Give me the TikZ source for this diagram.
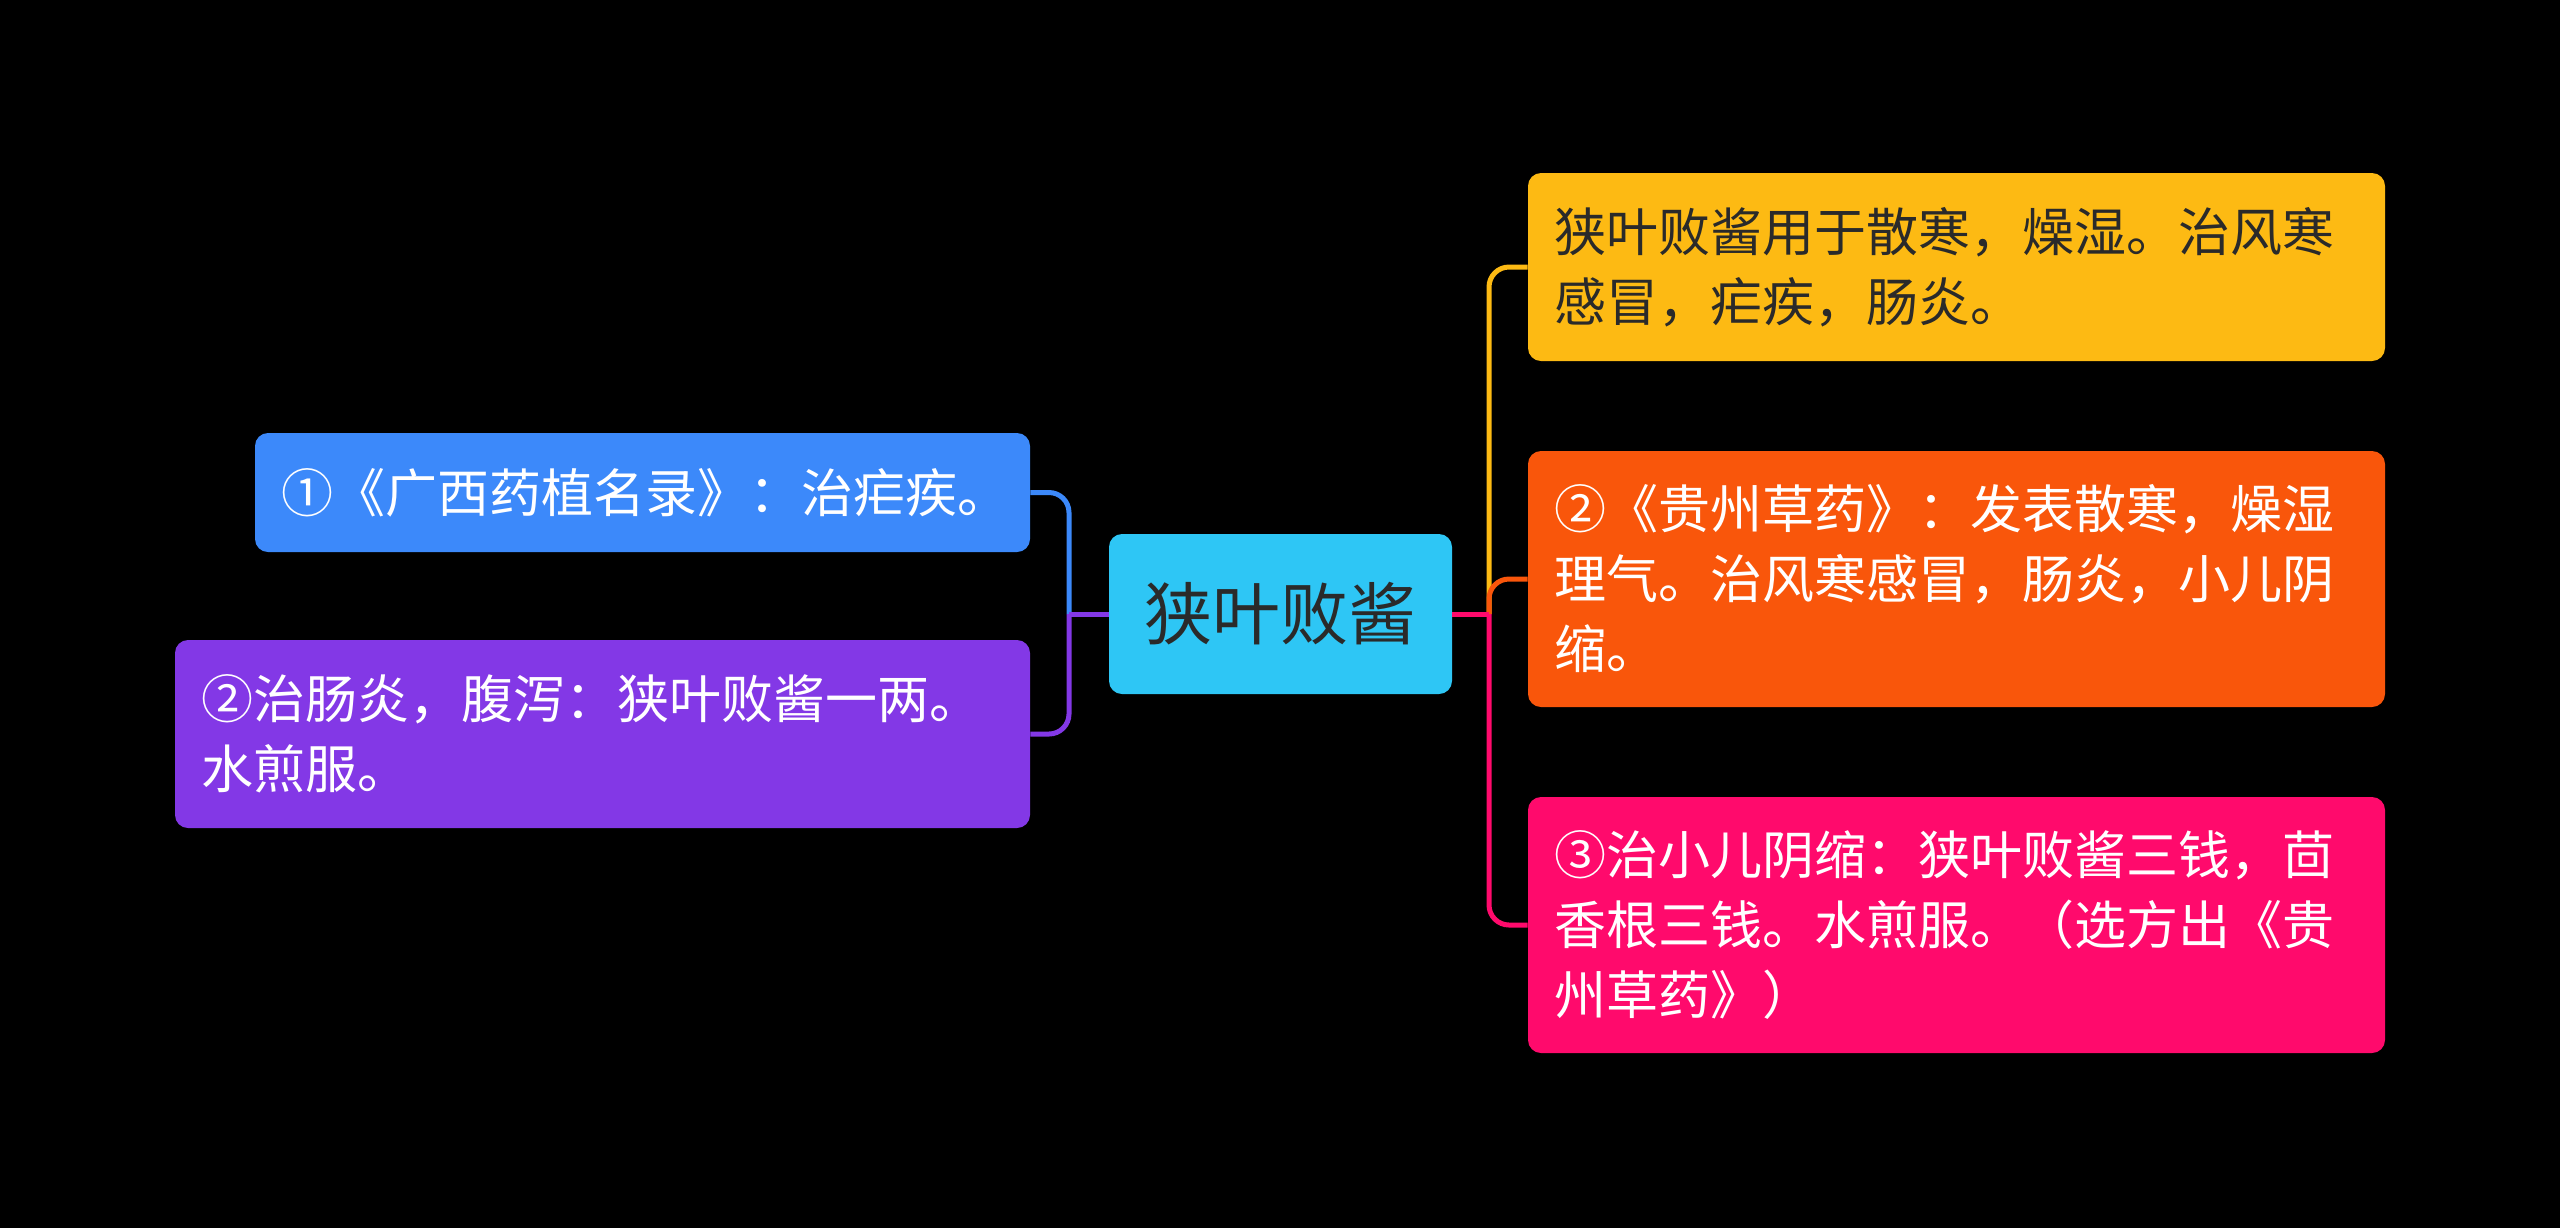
\documentclass[tikz,border=0pt]{standalone}
\usepackage{fontspec}
\setmainfont{Noto Sans CJK SC}
\definecolor{bgc}{HTML}{000000}
\definecolor{rootc}{HTML}{2EC6F5}
\definecolor{yelc}{HTML}{FDBA13}
\definecolor{orac}{HTML}{F9560B}
\definecolor{pinc}{HTML}{FF0A6C}
\definecolor{bluc}{HTML}{3C89FA}
\definecolor{purc}{HTML}{8338E6}
\definecolor{darktxt}{HTML}{2A2A2A}
\begin{document}
\begin{tikzpicture}[x=0.5pt,y=-0.5pt,
  box/.style={rectangle, rounded corners=6.5pt, inner xsep=13pt, inner ysep=0pt,
    align=left, font=\fontsize{26}{35}\selectfont, text=white},
  link/.style={line width=2.5pt, rounded corners=10pt}]
\fill[bgc] (0,0) rectangle (2560,1228);
\useasboundingbox (0,0) rectangle (2560,1228);

\node[box, fill=rootc, text=darktxt, align=center, font=\fontsize{34}{40}\selectfont,
  minimum width=171.5pt, minimum height=80pt] (root) at (1280.5,614) {狭叶败酱};

\node[box, fill=yelc, text=darktxt, text width=402.5pt, minimum height=94pt] (yel) at (1956.5,267)
  {狭叶败酱用于散寒，燥湿。治风寒\\感冒，疟疾，肠炎。};
\node[box, fill=orac, text width=402.5pt, minimum height=128pt] (ora) at (1956.5,579)
  {②《贵州草药》：发表散寒，燥湿\\理气。治风寒感冒，肠炎，小儿阴\\缩。};
\node[box, fill=pinc, text width=402.5pt, minimum height=128pt] (pin) at (1956.5,925)
  {③治小儿阴缩：狭叶败酱三钱，茴\\香根三钱。水煎服。（选方出《贵\\州草药》）};
\node[box, fill=bluc, text width=361.5pt, minimum height=59.5pt] (blu) at (642.5,492.5)
  {①《广西药植名录》：治疟疾。};
\node[box, fill=purc, text width=401.5pt, minimum height=94pt] (pur) at (602.5,734)
  {②治肠炎，腹泻：狭叶败酱一两。\\水煎服。};

\coordinate (jr) at (1489,614);
\coordinate (jl) at (1069,614);

\draw[link, yelc] (jr) |- (yel.west);
\draw[link, orac] (jr) |- (ora.west);
\draw[link, pinc] (jr) |- (pin.west);
\draw[link, pinc] (root.east) -- (jr);

\draw[link, bluc] (jl) |- (blu.east);
\draw[link, purc] (jl) |- (pur.east);
\draw[link, purc] (root.west) -- (jl);
\end{tikzpicture}
\end{document}
